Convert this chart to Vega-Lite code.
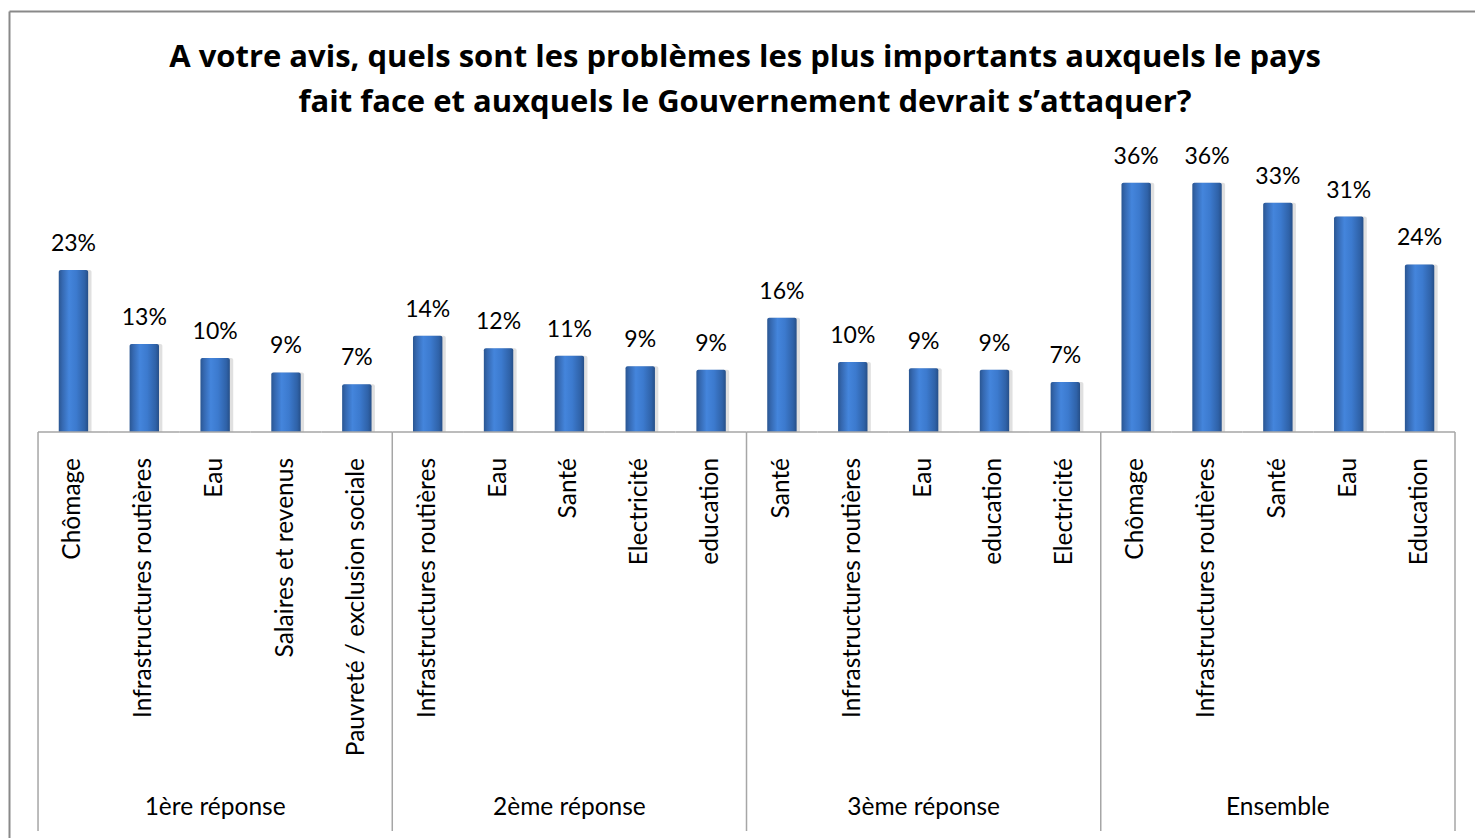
{
  "$schema": "https://vega.github.io/schema/vega-lite/v6.json",
  "width": 1466,
  "height": 827,
  "autosize": "none",
  "padding": {"left": 9, "top": 11, "right": 0, "bottom": 0},
  "background": "white",
  "config": {
    "view": {"stroke": null},
    "text": {"font": "Lato", "color": "black"}
  },
  "title": {
    "text": ["A votre avis, quels sont les problèmes les plus importants auxquels le pays", "fait face et auxquels le Gouvernement devrait s’attaquer?"],
    "font": "Open Sans",
    "fontSize": 31,
    "fontWeight": "bold",
    "lineHeight": 45,
    "color": "black",
    "anchor": "middle",
    "frame": "group",
    "offset": -108,
    "dx": 3
  },
  "data": {
    "values": [
      {"key": "k01", "group": "1ère réponse", "pos": 1, "label": "Chômage", "value": 23.4, "pct": "23%"},
      {"key": "k02", "group": "1ère réponse", "pos": 2, "label": "Infrastructures routières", "value": 12.7, "pct": "13%"},
      {"key": "k03", "group": "1ère réponse", "pos": 3, "label": "Eau", "value": 10.7, "pct": "10%"},
      {"key": "k04", "group": "1ère réponse", "pos": 4, "label": "Salaires et revenus", "value": 8.6, "pct": "9%"},
      {"key": "k05", "group": "1ère réponse", "pos": 5, "label": "Pauvreté / exclusion sociale", "value": 6.9, "pct": "7%"},
      {"key": "k06", "group": "2ème réponse", "pos": 1, "label": "Infrastructures routières", "value": 13.9, "pct": "14%"},
      {"key": "k07", "group": "2ème réponse", "pos": 2, "label": "Eau", "value": 12.1, "pct": "12%"},
      {"key": "k08", "group": "2ème réponse", "pos": 3, "label": "Santé", "value": 11.0, "pct": "11%"},
      {"key": "k09", "group": "2ème réponse", "pos": 4, "label": "Electricité", "value": 9.5, "pct": "9%"},
      {"key": "k10", "group": "2ème réponse", "pos": 5, "label": "education", "value": 9.0, "pct": "9%"},
      {"key": "k11", "group": "3ème réponse", "pos": 1, "label": "Santé", "value": 16.5, "pct": "16%"},
      {"key": "k12", "group": "3ème réponse", "pos": 2, "label": "Infrastructures routières", "value": 10.1, "pct": "10%"},
      {"key": "k13", "group": "3ème réponse", "pos": 3, "label": "Eau", "value": 9.2, "pct": "9%"},
      {"key": "k14", "group": "3ème réponse", "pos": 4, "label": "education", "value": 9.0, "pct": "9%"},
      {"key": "k15", "group": "3ème réponse", "pos": 5, "label": "Electricité", "value": 7.2, "pct": "7%"},
      {"key": "k16", "group": "Ensemble", "pos": 1, "label": "Chômage", "value": 36.0, "pct": "36%"},
      {"key": "k17", "group": "Ensemble", "pos": 2, "label": "Infrastructures routières", "value": 36.0, "pct": "36%"},
      {"key": "k18", "group": "Ensemble", "pos": 3, "label": "Santé", "value": 33.1, "pct": "33%"},
      {"key": "k19", "group": "Ensemble", "pos": 4, "label": "Eau", "value": 31.1, "pct": "31%"},
      {"key": "k20", "group": "Ensemble", "pos": 5, "label": "Education", "value": 24.2, "pct": "24%"}
    ]
  },
  "encoding": {
    "x": {
      "field": "key",
      "type": "nominal",
      "sort": null,
      "axis": {"orient": "top", "labels": false, "ticks": false, "grid": false, "title": null, "domain": true, "domainColor": "#898989", "domainWidth": 2},
      "scale": {"paddingInner": 0, "paddingOuter": 0.346, "align": 0.592}
    }
  },
  "layer": [
    {
      "mark": {"type": "bar", "width": {"band": 0.44}, "xOffset": 2.5, "fill": "#000000", "opacity": 0.12, "cornerRadiusTopLeft": 2, "cornerRadiusTopRight": 2},
      "encoding": {
        "y": {"field": "value", "type": "quantitative", "axis": {"orient": "left", "labels": false, "ticks": false, "grid": false, "title": null, "domain": true, "domainColor": "#898989", "domainWidth": 2}, "scale": {"domain": [-58.63, 60.79], "nice": false, "zero": false}},
        "y2": {"datum": 0}
      }
    },
    {
      "mark": {
        "type": "bar",
        "width": {"band": 0.415},
        "cornerRadiusTopLeft": 2,
        "cornerRadiusTopRight": 2,
        "fill": {
          "gradient": "linear",
          "x1": 0, "y1": 0, "x2": 1, "y2": 0,
          "stops": [
            {"offset": 0, "color": "#2a5692"},
            {"offset": 0.12, "color": "#3568b0"},
            {"offset": 0.35, "color": "#4485dc"},
            {"offset": 0.6, "color": "#3c7ace"},
            {"offset": 0.88, "color": "#2f62a8"},
            {"offset": 1, "color": "#264f88"}
          ]
        }
      },
      "encoding": {
        "y": {"field": "value", "type": "quantitative"},
        "y2": {"datum": 0}
      }
    },
    {
      "mark": {"type": "text", "baseline": "alphabetic", "align": "center", "dy": -19, "fontSize": 23, "font": "Lato"},
      "encoding": {
        "y": {"field": "value", "type": "quantitative"},
        "text": {"field": "pct"}
      }
    },
    {
      "mark": {"type": "rect", "fill": "#a6a6a6"},
      "encoding": {
        "y": {"datum": 0.1},
        "y2": {"datum": -0.1}
      }
    },
    {
      "transform": [{"filter": "datum.pos == 1"}],
      "mark": {"type": "rule", "stroke": "#a6a6a6", "strokeWidth": 1.5},
      "encoding": {
        "x": {"field": "key", "type": "nominal", "bandPosition": 0},
        "y": {"datum": 0},
        "y2": {"datum": -57.62}
      }
    },
    {
      "transform": [{"filter": "datum.key == 'k20'"}],
      "mark": {"type": "rule", "stroke": "#a6a6a6", "strokeWidth": 1.5},
      "encoding": {
        "x": {"field": "key", "type": "nominal", "bandPosition": 1},
        "y": {"datum": 0},
        "y2": {"datum": -57.62}
      }
    },
    {
      "mark": {"type": "text", "angle": 270, "align": "right", "baseline": "middle", "fontSize": 24.5, "font": "Lato"},
      "encoding": {
        "y": {"datum": -3.75},
        "text": {"field": "label"}
      }
    },
    {
      "transform": [{"filter": "datum.pos == 3"}],
      "mark": {"type": "text", "align": "center", "baseline": "alphabetic", "fontSize": 24.5, "font": "Lato"},
      "encoding": {
        "y": {"datum": -55.3},
        "text": {"field": "group"}
      }
    }
  ]
}
